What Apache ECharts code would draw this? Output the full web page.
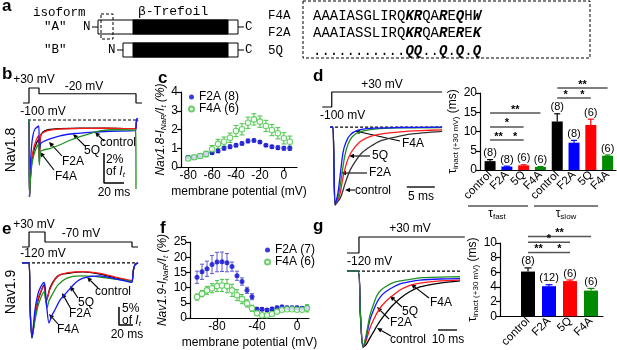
<!DOCTYPE html>
<html>
<head>
<meta charset="utf-8">
<script src="https://cdn.jsdelivr.net/npm/echarts@6/dist/echarts.min.js"></script>
<style>
  html, body { margin: 0; padding: 0; background: #fff; }
  #chart { width: 617px; height: 350px; }
</style>
</head>
<body>
<div id="chart"></div>
<script>
const FONT = '"Liberation Sans", Arial, sans-serif'
const MONO = '"Liberation Mono", monospace'
const BLACK = '#000', BLUE = '#1414ff', RED = '#ff1a1a', GREEN = '#1f8f1f'
const LBLUE = '#0a0ad2', LGREEN = '#45c445'

// ---- protocols (mV), time in ms ----
const bProtocol = [[3, -100], [9, -100], [9, 30], [19, 30], [19, -20], [116, -20], [116, -100], [122, -100]]
const eProtocol = [[2.9, -120], [12.9, -120], [12.9, 30], [35.7, 30], [35.7, -70], [160, -70], [160, -120], [168.6, -120]]
const dProtocol = [[0.4, -100], [2.1, -100], [2.1, 30], [21.8, 30]]
const gProtocol = [[0, -120], [6.3, -120], [6.3, 30], [62, 30]]

// ---- b traces: Nav1.8, % of It ----
const bControl = [[8, 0], [9, 0], [9.5, -5.1], [10.5, -3.8], [12, -2.7], [14, -2.0], [16.5, -1.55], [18.8, -1.3], [19.3, -2.8], [20.5, -1.1], [23, -0.8], [28, -0.65], [40, -0.58], [60, -0.55], [85, -0.55], [115.5, -0.58], [116.5, -0.1], [118, 0]]
const b5Q = [[8, 0], [9, 0], [9.5, -5.1], [10.5, -3.6], [12, -2.5], [14, -1.8], [16.5, -1.3], [18.8, -1.05], [19.3, -2.5], [20.5, -1.05], [23, -0.85], [28, -0.7], [40, -0.6], [60, -0.56], [85, -0.55], [115.5, -0.58], [116.5, -0.1], [118, 0]]
const bF2A = [[8, 0], [9, 0], [9.5, -5.1], [10.3, -3.2], [11.5, -1.8], [13, -1.0], [15, -0.6], [18.8, -0.4], [19.3, -2.0], [20.5, -1.6], [23, -1.45], [30, -1.25], [40, -1.05], [55, -0.9], [70, -0.82], [90, -0.75], [115.5, -0.7], [116.3, -0.1], [117, 0.1], [118, 0.05]]
const bF4A = [[8, 0], [9, 0], [9.5, -5.1], [10.5, -3.9], [12, -2.9], [14, -2.3], [16.5, -1.85], [18.8, -1.6], [19.3, -3.0], [20.5, -2.1], [23, -2.0], [30, -1.9], [40, -1.65], [50, -1.35], [60, -1.1], [70, -0.9], [80, -0.72], [95, -0.65], [115.5, -0.7], [116, -4.6]]
const bBaseline = [[8, 0], [117, 0]]
const bScale = [[84, -2.2], [84, -4.2], [104, -4.2]]

// ---- e traces: Nav1.9, % of It ----
const eControl = [[2.9, 0], [12.9, 0], [14.3, -12], [17.1, -20.8], [21.4, -15], [25.7, -10.5], [30, -8], [34.3, -6.1], [35.7, -7], [37.1, -10.8], [40, -9], [42.9, -6.9], [50, -4.4], [57.1, -3.3], [71.4, -2.8], [90, -2.5], [114.3, -3.1], [135.7, -4.1], [157.1, -5.0], [160, -5.2], [162, -2], [164.3, -0.5], [168.6, 0]]
const e5Q = [[2.9, 0], [12.9, 0], [14.3, -12], [17.1, -20.5], [21.4, -14.5], [25.7, -10], [30, -7.8], [34.3, -6.5], [35.7, -7.2], [37.1, -10.8], [40, -9.2], [42.9, -7.2], [50, -4.6], [57.1, -3.3], [71.4, -2.6], [90, -2.4], [114.3, -2.9], [135.7, -3.9], [157.1, -4.8], [160, -5.0], [162, -2], [164.3, -0.5], [168.6, 0]]
const eF4A = [[2.9, 0], [12.9, 0], [14.3, -12], [17.1, -20.8], [21.4, -16], [25.7, -12], [30, -9.5], [34.3, -8], [35.7, -9], [38.6, -12.5], [41.4, -10.5], [45.7, -8.9], [54.3, -6.1], [67.1, -4.2], [85.7, -3.6], [114.3, -3.9], [135.7, -4.5], [157.1, -5.0], [160, -5.2], [162, -2], [164.3, -0.5], [168.6, 0]]
const eF2A = [[2.9, 0], [12.9, 0], [14.3, -12], [17.1, -20.8], [21.4, -13], [25.7, -8.5], [30, -6.5], [34.3, -5.4], [35.7, -6.5], [38.6, -13], [41.4, -16.7], [45.7, -14.5], [50, -13], [57.1, -10.3], [67.1, -8.1], [78.6, -5.6], [90, -4.2], [114.3, -3.6], [135.7, -4.4], [157.1, -5.3], [160, -5.4], [162, -2], [164.3, -0.5], [168.6, 0]]
const eBaseline = [[2.9, 0], [164.3, 0]]
const eScale = [[141.4, -12.2], [141.4, -17.2], [161.4, -17.2]]

// ---- d traces: Nav1.8 at +30 mV, normalised ----
const dF2A = [[1.8, 0], [2.3, 0], [2.7, -1], [3.2, -0.85], [3.6, -0.62], [4.1, -0.33], [4.6, -0.2], [5.4, -0.1], [6.8, -0.04], [9, -0.015], [14, -0.005], [21.8, 0]]
const dF4A = [[1.8, 0], [2.3, 0], [2.7, -1], [3.3, -0.88], [3.8, -0.66], [4.4, -0.38], [5.0, -0.22], [5.8, -0.12], [7.1, -0.06], [9.8, -0.025], [14, -0.01], [21.8, -0.005]]
const d5Q = [[1.8, 0], [2.3, 0], [2.7, -1], [3.5, -0.88], [4.1, -0.65], [4.8, -0.45], [5.6, -0.32], [7.1, -0.19], [9, -0.12], [11.6, -0.08], [14.3, -0.06], [18, -0.045], [21.8, -0.035]]
const dControl = [[1.8, 0], [2.3, 0], [2.7, -1], [3.7, -0.9], [4.5, -0.72], [5.4, -0.55], [6.5, -0.42], [7.5, -0.33], [9, -0.25], [10.7, -0.18], [13.4, -0.13], [16.1, -0.09], [21.8, -0.055]]
const dBaseline = [[1.8, 0], [21.8, 0]]
const dScale = [[15.5, -0.77], [20.5, -0.77]]

// ---- g traces: Nav1.9 at +30 mV, normalised ----
const gF4A = [[0, 0], [5.8, 0], [7, -0.55], [8.4, -1], [10, -0.85], [12.1, -0.58], [14.2, -0.42], [15.8, -0.32], [17.9, -0.25], [20, -0.21], [23.7, -0.16], [27.9, -0.13], [33.2, -0.11], [38.4, -0.09], [48.9, -0.08], [59.5, -0.075]]
const gF2A = [[0, 0], [5.8, 0], [7, -0.55], [8.4, -1], [10, -0.88], [12.1, -0.64], [14.2, -0.5], [15.8, -0.41], [17.9, -0.33], [20, -0.28], [23.7, -0.22], [27.9, -0.17], [33.2, -0.14], [38.4, -0.12], [48.9, -0.105], [59.5, -0.1]]
const g5Q = [[0, 0], [5.8, 0], [7, -0.55], [8.4, -1], [10, -0.92], [12.1, -0.75], [14.2, -0.63], [15.8, -0.55], [17.9, -0.47], [20, -0.41], [23.7, -0.33], [27.9, -0.25], [33.2, -0.19], [38.4, -0.16], [48.9, -0.13], [59.5, -0.12]]
const gControl = [[0, 0], [5.8, 0], [7, -0.55], [8.4, -1], [10, -0.97], [12.1, -0.88], [14.2, -0.79], [15.8, -0.72], [17.9, -0.64], [20, -0.57], [23.7, -0.46], [27.9, -0.36], [33.2, -0.27], [38.4, -0.21], [48.9, -0.16], [59.5, -0.13]]
const gBaseline = [[0, 0], [59.5, 0]]
const gScale = [[47.9, -0.776], [57.9, -0.776]]

// ---- c: Nav1.8 resurgent / transient (%) ----
const cVoltage = [-80, -75, -70, -65, -60, -55, -50, -45, -40, -35, -30, -25, -20, -15, -10, -5, 0, 5]
const cF2A = [0.52, 0.52, 0.59, 0.69, 0.76, 0.85, 1.0, 1.08, 1.16, 1.26, 1.39, 1.42, 1.33, 1.16, 1.08, 1.03, 1.0, 1.0]
const cF2AErr = [0.08, 0.08, 0.08, 0.1, 0.08, 0.08, 0.1, 0.1, 0.08, 0.08, 0.1, 0.08, 0.06, 0.06, 0.08, 0.1, 0.1, 0.12]
const cF4A = [0.46, 0.52, 0.59, 0.69, 0.95, 1.23, 1.35, 1.56, 1.92, 2.01, 2.36, 2.54, 2.42, 2.19, 1.97, 1.8, 1.53, 1.35]
const cF4AErr = [0.1, 0.1, 0.12, 0.15, 0.2, 0.25, 0.25, 0.25, 0.3, 0.3, 0.3, 0.3, 0.3, 0.3, 0.3, 0.3, 0.3, 0.3]

// ---- f: Nav1.9 resurgent / transient (%) ----
const fVoltage = [-100, -95, -90, -85, -80, -75, -70, -65, -60, -55, -50, -45, -40, -35, -30, -25, -20, -15, -10, -5, 0, 5, 10]
const fF2A = [13.4, 15.2, 16.2, 17.6, 18.4, 18.5, 18.2, 16.9, 13.9, 12.0, 9.1, 7.0, 2.9, 2.9, 2.6, 3.0, 3.4, 3.6, 3.4, 3.4, 3.4, 3.2, 3.4]
const fF2AErr = [2.0, 2.5, 2.5, 3.0, 3.2, 3.2, 3.0, 1.5, 1.5, 1.2, 1.0, 1.0, 0.6, 0.5, 0.4, 0.5, 0.5, 0.6, 0.5, 0.5, 0.5, 0.5, 0.6]
const fF4A = [6.9, 8.0, 9.1, 9.8, 10.5, 10.7, 10.5, 9.1, 7.5, 6.2, 4.8, 3.2, 1.6, 0.9, 0.9, 1.3, 2.1, 2.7, 2.9, 2.9, 2.7, 2.7, 3.2]
const fF4AErr = [1.0, 1.0, 1.3, 1.5, 1.8, 2.0, 2.2, 2.0, 1.8, 1.5, 1.2, 1.0, 0.6, 0.4, 0.4, 0.4, 0.4, 0.4, 0.3, 0.3, 0.4, 0.5, 1.2]

// ---- d / g bar charts: tau inact (ms) ----
const dCategories = ['control', 'F2A', '5Q', 'F4A', 'control', 'F2A', '5Q', 'F4A']
const dTau = [2.3, 0.9, 1.2, 0.8, 12.6, 7.1, 11.7, 3.7]
const dErr = [0.4, 0.1, 0.15, 0.1, 2.0, 0.6, 1.5, 0.2]
const dN = ['(8)', '(8)', '(6)', '(6)', '(8)', '(8)', '(6)', '(6)']
const dSig = [[0, 3, 14.8, '**'], [0, 2, 11.2, '*'], [0, 1, 7.8, '**'], [1, 2, 7.8, '*'], [4, 7, 21.3, '**'], [4, 5, 18.7, '*'], [5, 6, 18.7, '*']]

const gCategories = ['control', 'F2A', '5Q', 'F4A']
const gTau = [6.1, 4.1, 4.8, 3.5]
const gErr = [0.5, 0.2, 0.15, 0.3]
const gN = ['(8)', '(12)', '(6)', '(6)']
const gSig = [[0, 3, 10.9, '**'], [0, 2, 10.1, '*'], [0, 1, 8.7, '**'], [1, 2, 8.7, '*']]

const barColors = [BLACK, '#0000ff', '#ff0000', '#008a00']

// ---------- helpers ----------
const grids = [
  { left: 20, top: 88, width: 125, height: 15 },     // 0 b protocol
  { left: 20, top: 117, width: 125, height: 83 },    // 1 b traces
  { left: 181, top: 92, width: 116, height: 75 },    // 2 c
  { left: 320, top: 92, width: 123.2, height: 15 },  // 3 d protocol
  { left: 320, top: 124, width: 123.2, height: 84 }, // 4 d traces
  { left: 480, top: 93, width: 136, height: 77 },    // 5 d bars
  { left: 20, top: 232, width: 126, height: 15 },    // 6 e protocol
  { left: 20, top: 259, width: 126, height: 83 },    // 7 e traces
  { left: 190, top: 242, width: 119, height: 78 },   // 8 f
  { left: 347, top: 237, width: 117.8, height: 16 }, // 9 g protocol
  { left: 347, top: 268, width: 117.8, height: 81 }, // 10 g traces
  { left: 500, top: 243, width: 103, height: 78 }    // 11 g bars
]

const hidden = (i, min, max) => ({ gridIndex: i, type: 'value', min, max, show: false })
const axLine = { show: true, onZero: false, lineStyle: { color: '#000', width: 1.2 } }
const tick = values => ({ show: true, length: 4, customValues: values, lineStyle: { color: '#000', width: 1.2 } })
const subRich = {
  i: { fontStyle: 'italic', fontSize: 12, fontFamily: FONT, color: '#000' },
  s: { fontStyle: 'italic', fontSize: 8, fontFamily: FONT, color: '#000', verticalAlign: 'bottom', padding: [6, 0, 0, 0] },
  t: { fontSize: 12, fontFamily: FONT, color: '#000' },
  u: { fontSize: 8, fontFamily: FONT, color: '#000', verticalAlign: 'bottom', padding: [6, 0, 0, 0] }
}

const xAxis = [
  hidden(0, 0, 125), hidden(1, 0, 125),
  {
    gridIndex: 2, type: 'value', min: -86, max: 11, axisLine: axLine, splitLine: { show: false },
    axisTick: tick([-80, -60, -40, -20, 0]),
    axisLabel: { customValues: [-80, -60, -40, -20, 0], color: '#000', fontSize: 12, margin: 3 },
    name: 'membrane potential (mV)', nameLocation: 'middle', nameGap: 19,
    nameTextStyle: { color: '#000', fontSize: 12 }
  },
  hidden(3, 0, 22), hidden(4, 0, 22),
  {
    gridIndex: 5, type: 'value', min: -0.6, max: 7.5, axisLine: axLine, splitLine: { show: false },
    axisTick: { show: false },
    axisLabel: { customValues: [0, 1, 2, 3, 4, 5, 6, 7], formatter: v => dCategories[v], rotate: 45, color: '#000', fontSize: 11.5, margin: 3 }
  },
  hidden(6, 0, 180), hidden(7, 0, 180),
  {
    gridIndex: 8, type: 'value', min: -107, max: 12, axisLine: axLine, splitLine: { show: false },
    axisTick: tick([-80, -40, 0]),
    axisLabel: { customValues: [-80, -40, 0], color: '#000', fontSize: 12, margin: 3 },
    name: 'membrane potential (mV)', nameLocation: 'middle', nameGap: 19,
    nameTextStyle: { color: '#000', fontSize: 12 }
  },
  hidden(9, 0, 62), hidden(10, 0, 62),
  {
    gridIndex: 11, type: 'value', min: -1.333, max: 3.57, axisLine: axLine, splitLine: { show: false },
    axisTick: { show: false },
    axisLabel: { customValues: [0, 1, 2, 3], formatter: v => gCategories[v], rotate: 45, color: '#000', fontSize: 11.5, margin: 3 }
  }
]

const yAxis = [
  hidden(0, -100, 30), hidden(1, -5.33, 0.2),
  {
    gridIndex: 2, type: 'value', min: 0, max: 4, interval: 1, axisLine: axLine, splitLine: { show: false },
    axisTick: { show: true, length: 4, lineStyle: { color: '#000', width: 1.2 } },
    axisLabel: { color: '#000', fontSize: 12, margin: 3 },
    name: '{i|Nav1.8-I}{s|NaR}{i|/I}{s|t}{i| (%)}', nameLocation: 'middle', nameGap: 12,
    nameTextStyle: { rich: subRich }
  },
  hidden(3, -100, 30), hidden(4, -1.04, 0.04),
  {
    gridIndex: 5, type: 'value', min: 0, max: 20, interval: 5, axisLine: axLine, splitLine: { show: false },
    axisTick: { show: true, length: 4, lineStyle: { color: '#000', width: 1.2 } },
    axisLabel: { color: '#000', fontSize: 12, margin: 3 },
    name: '{t|τ}{u|inact (+30 mV)}{t| (ms)}', nameLocation: 'middle', nameGap: 18,
    nameTextStyle: { rich: subRich }
  },
  hidden(6, -120, 30), hidden(7, -21.94, 1.1),
  {
    gridIndex: 8, type: 'value', min: 0, max: 25, interval: 5, axisLine: axLine, splitLine: { show: false },
    axisTick: { show: true, length: 4, lineStyle: { color: '#000', width: 1.2 } },
    axisLabel: { color: '#000', fontSize: 12, margin: 3 },
    name: '{i|Nav1.9-I}{s|NaR}{i|/I}{s|t}{i| (%)}', nameLocation: 'middle', nameGap: 19,
    nameTextStyle: { rich: subRich }
  },
  hidden(9, -120, 30), hidden(10, -1.026, 0.04),
  {
    gridIndex: 11, type: 'value', min: 0, max: 10, interval: 2, axisLine: axLine, splitLine: { show: false },
    axisTick: { show: true, length: 4, lineStyle: { color: '#000', width: 1.2 } },
    axisLabel: { color: '#000', fontSize: 12, margin: 3 },
    name: '{t|τ}{u|inact (+30 mV)}{t| (ms)}', nameLocation: 'middle', nameGap: 17,
    nameTextStyle: { rich: subRich }
  }
]

const line = (grid, data, color, opt = {}) => ({
  type: 'line', xAxisIndex: grid, yAxisIndex: grid, data, showSymbol: false, silent: true, clip: false,
  smooth: opt.smooth || false,
  lineStyle: { color, width: opt.width || 1.2, type: opt.dash ? [3, 2] : 'solid' }
})
const trace = (grid, data, color) => line(grid, data, color, { smooth: 0.25, width: 1.3 })

const errBars = (grid, xs, ys, es, color, cap) => ({
  type: 'custom', xAxisIndex: grid, yAxisIndex: grid, silent: true, clip: false, z: 2,
  data: xs.map((x, i) => [x, ys[i], es[i]]),
  renderItem: (params, api) => {
    const hi = api.coord([api.value(0), api.value(1) + api.value(2)])
    const lo = api.coord([api.value(0), api.value(1) - api.value(2)])
    const st = { stroke: color, lineWidth: 1 }
    return {
      type: 'group', children: [
        { type: 'line', shape: { x1: hi[0], y1: hi[1], x2: lo[0], y2: lo[1] }, style: st },
        { type: 'line', shape: { x1: hi[0] - cap, y1: hi[1], x2: hi[0] + cap, y2: hi[1] }, style: st },
        { type: 'line', shape: { x1: lo[0] - cap, y1: lo[1], x2: lo[0] + cap, y2: lo[1] }, style: st }
      ]
    }
  }
})

const scatter = (grid, name, xs, ys, color, open) => ({
  type: 'scatter', name, xAxisIndex: grid, yAxisIndex: grid, silent: true, z: 3,
  symbol: 'circle', symbolSize: open ? 5.5 : 5,
  data: xs.map((x, i) => [x, ys[i]]),
  itemStyle: open ? { color: '#fff', borderColor: color, borderWidth: 1.1 } : { color }
})

const bars = (grid, vals, width) => ({
  type: 'bar', xAxisIndex: grid, yAxisIndex: grid, silent: true, barWidth: width,
  data: vals.map((v, i) => ({ value: [i, v], itemStyle: { color: barColors[i % 4] } }))
})

const barErr = (grid, vals, errs, labels, cap) => ({
  type: 'custom', xAxisIndex: grid, yAxisIndex: grid, silent: true, clip: false,
  data: vals.map((v, i) => [i, v, errs[i]]),
  renderItem: (params, api) => {
    const base = api.coord([api.value(0), api.value(1)])
    const top = api.coord([api.value(0), api.value(1) + api.value(2)])
    const st = { stroke: barColors[params.dataIndex % 4], lineWidth: 1.2 }
    return {
      type: 'group', children: [
        { type: 'line', shape: { x1: base[0], y1: base[1], x2: top[0], y2: top[1] }, style: st },
        { type: 'line', shape: { x1: top[0] - cap, y1: top[1], x2: top[0] + cap, y2: top[1] }, style: st },
        { type: 'text', x: top[0], y: top[1] - 1, style: { text: labels[params.dataIndex], textAlign: 'center', textVerticalAlign: 'bottom', font: `11px ${FONT}`, fill: '#000' } }
      ]
    }
  }
})

const sigLines = (grid, sig, ext) => ({
  type: 'custom', xAxisIndex: grid, yAxisIndex: grid, silent: true, clip: false,
  data: sig.map(s => [s[0], s[1], s[2]]),
  renderItem: (params, api) => {
    const a = api.coord([api.value(0), api.value(2)])
    const b = api.coord([api.value(1), api.value(2)])
    return {
      type: 'group', children: [
        { type: 'line', shape: { x1: a[0] - ext, y1: a[1], x2: b[0] + ext, y2: a[1] }, style: { stroke: '#555', lineWidth: 1.5 } },
        { type: 'text', x: (a[0] + b[0]) / 2, y: a[1] + 2, style: { text: sig[params.dataIndex][3], textAlign: 'center', textVerticalAlign: 'bottom', font: `bold 11px ${FONT}`, fill: '#000' } }
      ]
    }
  }
})

// ---------- graphic annotations ----------
const txt = (x, y, text, opt = {}) => ({
  type: 'text', x, y, rotation: opt.rot || 0, silent: true,
  style: { text, font: opt.font || `12px ${FONT}`, fill: '#000', textAlign: opt.align || 'center', textVerticalAlign: 'middle', rich: opt.rich }
})
const seg = (x1, y1, x2, y2, opt = {}) => ({
  type: 'line', silent: true, shape: { x1, y1, x2, y2 },
  style: { stroke: opt.color || '#000', lineWidth: opt.w || 1, lineDash: opt.dash || null }
})
const arrow = (x1, y1, x2, y2) => {
  const a = Math.atan2(y2 - y1, x2 - x1), L = 5, W = 2.3
  const bx = x2 - L * Math.cos(a), by = y2 - L * Math.sin(a)
  return [
    seg(x1, y1, bx, by, { w: 1.1 }),
    { type: 'polygon', silent: true, shape: { points: [[x2, y2], [bx - W * Math.sin(a), by + W * Math.cos(a)], [bx + W * Math.sin(a), by - W * Math.cos(a)]] }, style: { fill: '#000' } }
  ]
}
const box = (x, y, w, h, opt = {}) => ({
  type: 'rect', silent: true, shape: { x, y, width: w, height: h },
  style: { fill: opt.fill || 'none', stroke: opt.stroke === undefined ? '#000' : opt.stroke, lineWidth: 1, lineDash: opt.dash || null }
})

const seqRich = {
  n: { font: `14px ${MONO}`, fill: '#000' },
  b: { font: `italic bold 14px ${MONO}`, fill: '#000' }
}
const subText = {
  n: { fontSize: 12, fontFamily: FONT, fill: '#000' },
  s: { fontSize: 8, fontFamily: FONT, fill: '#000', verticalAlign: 'bottom', padding: [6, 0, 0, 0] },
  ni: { fontSize: 12, fontFamily: FONT, fontStyle: 'italic', fill: '#000' },
  si: { fontSize: 8, fontFamily: FONT, fontStyle: 'italic', fill: '#000', verticalAlign: 'bottom', padding: [6, 0, 0, 0] }
}
const LETTER = `bold 17px ${FONT}`

const graphic = [
  // panel a
  txt(2, 6, 'a', { font: LETTER, align: 'left' }),
  txt(33, 13, 'isoform', { font: `12.5px ${MONO}`, align: 'left' }),
  txt(138, 12, 'β-Trefoil', { font: `13px ${MONO}`, align: 'left' }),
  txt(44, 27, '"A"', { font: `12.5px ${MONO}`, align: 'left' }),
  txt(44, 50, '"B"', { font: `12.5px ${MONO}`, align: 'left' }),
  txt(83, 27, 'N', { font: `12.5px ${MONO}`, align: 'left' }), seg(92, 27, 98, 27),
  box(98, 20, 140, 14, { fill: '#fff' }), box(133, 20, 95, 14, { fill: '#000' }),
  box(101, 14, 12, 25, { dash: [3, 2] }),
  seg(238, 27, 244, 27), txt(245, 27, 'C', { font: `12.5px ${MONO}`, align: 'left' }),
  txt(108, 50, 'N', { font: `12.5px ${MONO}`, align: 'left' }), seg(117, 50, 123, 50),
  box(123, 43, 115, 14, { fill: '#fff' }), box(133, 43, 95, 14, { fill: '#000' }),
  seg(238, 50, 244, 50), txt(245, 50, 'C', { font: `12.5px ${MONO}`, align: 'left' }),
  txt(268, 16, 'F4A', { font: `12.5px ${MONO}`, align: 'left' }),
  txt(268, 33, 'F2A', { font: `12.5px ${MONO}`, align: 'left' }),
  txt(268, 51, '5Q', { font: `12.5px ${MONO}`, align: 'left' }),
  box(303, 1, 287, 57, { dash: [3, 2] }),
  txt(313, 16, '{n|AAAIASGLIRQ}{b|KR}{n|QA}{b|R}{n|E}{b|Q}{n|H}{b|W}', { align: 'left', rich: seqRich }),
  txt(313, 33, '{n|AAAIASSLIRQ}{b|KR}{n|QA}{b|R}{n|E}{b|R}{n|E}{b|K}', { align: 'left', rich: seqRich }),
  txt(313, 51, '{n|...........}{b|QQ}{n|..}{b|Q}{n|.}{b|Q}{n|.}{b|Q}', { align: 'left', rich: seqRich }),

  // panel letters
  txt(2, 74, 'b', { font: LETTER, align: 'left' }),
  txt(158, 78, 'c', { font: LETTER, align: 'left' }),
  txt(313, 76, 'd', { font: LETTER, align: 'left' }),
  txt(2, 229, 'e', { font: LETTER, align: 'left' }),
  txt(160, 228, 'f', { font: LETTER, align: 'left' }),
  txt(313, 226, 'g', { font: LETTER, align: 'left' }),

  // b annotations
  txt(34, 80, '+30 mV'), txt(84, 87, '-20 mV'), txt(43, 112, '-100 mV'),
  txt(11, 150, 'Nav1.8', { rot: Math.PI / 2, font: `14px ${FONT}` }),
  txt(118, 143, 'control'), ...arrow(104, 141, 95, 132),
  txt(92, 151, '5Q'), ...arrow(85, 146, 73, 134),
  txt(73, 162, 'F2A'), ...arrow(62, 156, 49, 142),
  txt(66, 177, 'F4A'), ...arrow(54, 170, 40, 152),
  txt(106, 160, '2%', { align: 'left' }),
  txt(106, 172, '{n|of }{ni|I}{si|t}', { align: 'left', rich: subText }),
  txt(114, 193, '20 ms'),

  // d annotations
  txt(382, 85, '+30 mV'), txt(320, 116, '-100 mV', { align: 'left' }),
  txt(413, 144, 'F4A'), ...arrow(400, 141, 355, 131),
  txt(380, 156, '5Q'), ...arrow(370, 156, 349, 156),
  txt(380, 173, 'F2A'), ...arrow(367, 173, 341, 173),
  txt(373, 191, 'control'), ...arrow(355, 190, 345, 190),
  txt(421, 197, '5 ms'),
  seg(468, 206, 528, 206, { w: 1.5, color: '#555' }), seg(534, 206, 598, 206, { w: 1.5, color: '#555' }),
  txt(497, 214, '{n|τ}{s|fast}', { rich: subText }),
  txt(566, 214, '{n|τ}{s|slow}', { rich: subText }),

  // e annotations
  txt(34, 225, '+30 mV'), txt(81, 234, '-70 mV'), txt(43, 254, '-120 mV'),
  txt(11, 292, 'Nav1.9', { rot: Math.PI / 2, font: `14px ${FONT}` }),
  txt(113, 292, 'control'), ...arrow(98, 288, 87, 277),
  txt(86, 303, '5Q'), ...arrow(78, 298, 70, 286),
  txt(80, 314, 'F2A'), ...arrow(71, 309, 62, 293),
  txt(68, 330, 'F4A'), ...arrow(58, 324, 49, 314),
  txt(122, 309, '5%', { align: 'left' }),
  txt(122, 321, '{n|of }{ni|I}{si|t}', { align: 'left', rich: subText }),
  txt(127, 335, '20 ms'),

  // g annotations
  txt(410, 229, '+30 mV'), txt(347, 262, '-120 mV', { align: 'left' }),
  txt(441, 303, 'F4A'), ...arrow(429, 298, 411, 284),
  txt(410, 312, '5Q'), ...arrow(402, 307, 390, 296),
  txt(401, 323, 'F2A'), ...arrow(389, 319, 377, 307),
  txt(408, 340, 'control'), ...arrow(391, 336, 377, 328),
  txt(448, 340, '10 ms')
]

const series = [
  // b
  line(0, bProtocol, BLACK),
  line(1, bBaseline, BLACK, { dash: true }),
  trace(1, bControl, BLACK), trace(1, b5Q, RED), trace(1, bF2A, BLUE), trace(1, bF4A, GREEN),
  line(1, bScale, BLACK, { width: 1.5 }),
  // c
  errBars(2, cVoltage, cF2A, cF2AErr, '#5a5ad8', 2),
  errBars(2, cVoltage, cF4A, cF4AErr, LGREEN, 2.5),
  scatter(2, 'F2A (8)', cVoltage, cF2A, LBLUE, false),
  scatter(2, 'F4A (6)', cVoltage, cF4A, LGREEN, true),
  // d
  line(3, dProtocol, BLACK),
  line(4, dBaseline, BLACK, { dash: true }),
  trace(4, dControl, '#333'), trace(4, d5Q, RED), trace(4, dF4A, GREEN), trace(4, dF2A, BLUE),
  line(4, dScale, '#555', { width: 2 }),
  bars(5, dTau, 11), barErr(5, dTau, dErr, dN, 3), sigLines(5, dSig, 0),
  // e
  line(6, eProtocol, BLACK),
  line(7, eBaseline, BLACK, { dash: true }),
  trace(7, eControl, BLACK), trace(7, e5Q, RED), trace(7, eF4A, GREEN), trace(7, eF2A, BLUE),
  line(7, eScale, BLACK, { width: 1.5 }),
  // f
  errBars(8, fVoltage, fF2A, fF2AErr, '#5a5ad8', 2),
  errBars(8, fVoltage, fF4A, fF4AErr, LGREEN, 2),
  scatter(8, 'F2A (7)', fVoltage, fF2A, LBLUE, false),
  scatter(8, 'F4A (6)', fVoltage, fF4A, LGREEN, true),
  // g
  line(9, gProtocol, BLACK),
  line(10, gBaseline, BLACK, { dash: true }),
  trace(10, gControl, BLACK), trace(10, g5Q, RED), trace(10, gF2A, BLUE), trace(10, gF4A, GREEN),
  line(10, gScale, '#555', { width: 2 }),
  bars(11, gTau, 14), barErr(11, gTau, gErr, gN, 3.5), sigLines(11, gSig, 0)
]

const legendBase = {
  orient: 'vertical', itemGap: 0, itemWidth: 5, itemHeight: 5, icon: 'circle', selectedMode: false,
  textStyle: { fontSize: 12, color: '#000', lineHeight: 12, fontFamily: FONT }
}

const chart = echarts.init(document.getElementById('chart'))
chart.setOption({
  animation: false,
  backgroundColor: '#fff',
  textStyle: { fontFamily: FONT },
  grid: grids,
  xAxis,
  yAxis,
  legend: [
    { ...legendBase, data: ['F2A (8)', 'F4A (6)'], left: 183, top: 86 },
    { ...legendBase, data: ['F2A (7)', 'F4A (6)'], left: 259, top: 239 }
  ],
  graphic,
  series
})
</script>
</body>
</html>
